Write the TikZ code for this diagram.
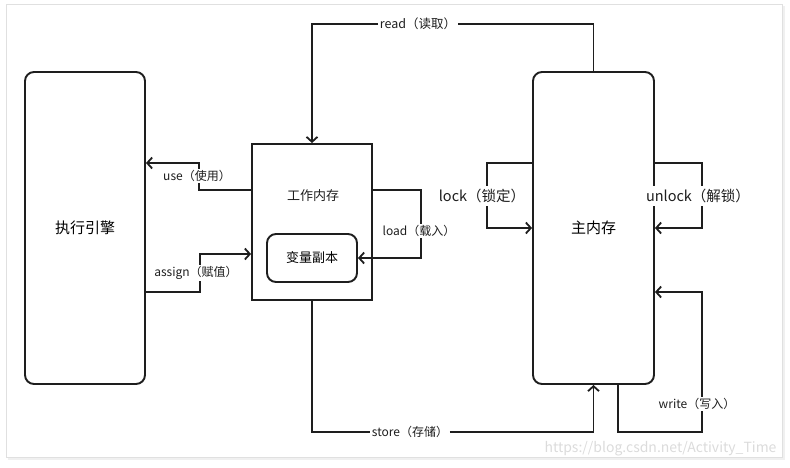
\documentclass[tikz,border=0pt]{standalone}
\usepackage{fontspec}
\setmainfont{Noto Sans CJK SC}
\usetikzlibrary{arrows.meta}

\definecolor{trait}{HTML}{1E1E1E}
\tikzset{
    grandbloc/.style={draw=trait, line width=1.9pt, rounded corners=9pt, font=\fontsize{15}{17}\selectfont},
    bloc/.style={draw=trait, line width=1.9pt, font=\fontsize{13}{15}\selectfont},
    ligne/.style={draw=trait, line width=1.9pt},
    fleche/.style={ligne, -{Straight Barb[length=5pt,width=11pt,line width=1.8pt]}},
    etiq/.style={inner sep=1.5pt, fill=white, font=\fontsize{12}{14}\selectfont, text=trait},
    grandetiq/.style={etiq, inner xsep=6pt, inner ysep=3pt, font=\fontsize{14.5}{16}\selectfont},
}

\begin{document}
\begin{tikzpicture}[x=1pt, y=-1pt]

        % Le cadre
        \useasboundingbox (0,0) rectangle (790,467);
        \draw[black!12, line width=0.8pt] (6,4) rectangle (782,457);
        \draw[black!6, line width=1.5pt] (8,459) -- (784,459) -- (784,6);

        % Les blocs
        \node[grandbloc, minimum width=120pt, minimum height=312pt] (moteur) at (85,228) {执行引擎};
        \node[bloc, minimum width=120pt, minimum height=156pt] (travail) at (312,222) {};
        \node[font=\fontsize{13}{15}\selectfont, text=trait] (titre) at (313,196) {工作内存};
        \node[bloc, rounded corners=9pt, minimum width=90pt, minimum height=48pt] (copie) at (312,258) {变量副本};
        \node[grandbloc, minimum width=121pt, minimum height=312pt] (principale) at (593.5,228) {主内存};

        % Les etiquettes
        \node[etiq, font=\fontsize{12.5}{14}\selectfont] (read) at (418,24) {read（读取）};
        \node[etiq] (use) at (197,176) {use（使用）};
        \node[etiq] (assign) at (196,273) {assign（赋值）};
        \node[etiq] (load) at (419,231) {load（载入）};
        \node[grandetiq] (lock) at (482,196) {lock（锁定）};
        \node[grandetiq] (unlock) at (698,196) {unlock（解锁）};
        \node[etiq] (store) at (410,432) {store（存储）};
        \node[etiq] (write) at (697,404) {write（写入）};
        \coordinate (coinw) at (702,432);

        % read
        \draw[ligne] (principale.north) |- (read.east);
        \draw[fleche] (read.west) -| (travail.north);

        % use et assign
        \draw[ligne] ([yshift=32pt]travail.west) -| ([xshift=2pt]use.south);
        \draw[fleche] ([xshift=2pt]use.north) |- ([yshift=65pt]moteur.east);
        \draw[ligne] ([yshift=-64pt]moteur.east) -| ([xshift=4pt]assign.south);
        \draw[fleche] ([xshift=4pt]assign.north) |- ([yshift=-32pt]travail.west);

        % load
        \draw[ligne] ([yshift=32pt]travail.east) -| ([xshift=2pt]load.north);
        \draw[fleche] ([xshift=2pt]load.south) |- (copie.east);

        % lock et unlock
        \draw[ligne] ([yshift=65pt]principale.west) -| ([xshift=5pt]lock.north);
        \draw[fleche] ([xshift=5pt]lock.south) |- (principale.west);
        \draw[ligne] ([yshift=65pt]principale.east) -| ([xshift=4pt]unlock.north);
        \draw[fleche] ([xshift=4pt]unlock.south) |- (principale.east);

        % store et write
        \draw[ligne] (travail.south) |- (store.west);
        \draw[fleche] (store.east) -| (principale.south);
        \draw[ligne] ([xshift=24.5pt]principale.south) |- (coinw) -- ([xshift=5pt]write.south);
        \draw[fleche] ([xshift=5pt]write.north) |- ([yshift=-64pt]principale.east);

        % Le filigrane
        \node[text=black!14, font=\fontsize{14}{16}\selectfont, anchor=east] (filigrane) at (780,449) {https://blog.csdn.net/Activity\_Time};

\end{tikzpicture}
\end{document}
